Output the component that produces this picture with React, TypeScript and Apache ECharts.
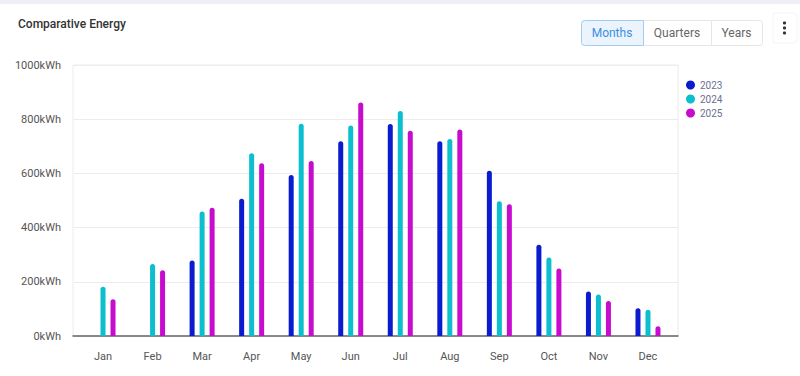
import React, { useEffect, useRef } from "react";
import * as echarts from "echarts";

const months = ["Jan", "Feb", "Mar", "Apr", "May", "Jun", "Jul", "Aug", "Sep", "Oct", "Nov", "Dec"];
const years = ["2023", "2024", "2025"];
const values2023 = [null, null, 279, 506, 594, 719, 782, 719, 610, 337, 164, 102];
const values2024 = [182, 266, 459, 674, 783, 777, 830, 727, 497, 290, 153, 97];
const values2025 = [136, 243, 473, 637, 646, 862, 757, 762, 486, 249, 129, 36];
const yTicks = [0, 200, 400, 600, 800, 1000];
const colors = ["#0b1ccf", "#0bbfcf", "#c70ccf"];
const buttons = ["Months", "Quarters", "Years"];

const FONT = "Roboto, 'Noto Sans', sans-serif";

export default function App() {
  const ref = useRef<HTMLDivElement>(null);
  useEffect(() => {
    if (!ref.current) return;
    const chart = echarts.init(ref.current, null, { renderer: "svg" });
    const seriesData = [values2023, values2024, values2025];
    const btnX = [581, 643, 711];
    const btnW = [62, 68, 51];
    chart.setOption({
      animation: false,
      backgroundColor: "#ffffff",
      textStyle: { fontFamily: FONT },
      grid: [
        { left: 78.25, right: 127.25, top: 65, bottom: 40 },
        { left: 73, right: 122, top: 65, bottom: 40, show: true, borderColor: "#ececec", borderWidth: 1, backgroundColor: "transparent" },
      ],
      legend: {
        data: years,
        orient: "vertical",
        left: 686,
        top: 80,
        padding: 0,
        icon: "circle",
        itemWidth: 9,
        itemHeight: 9,
        itemGap: 4,
        textStyle: { color: "#6b6f90", fontSize: 10, fontFamily: FONT },
      },
      xAxis: [
        {
          type: "category",
          gridIndex: 0,
          data: months,
          axisLine: { show: false },
          axisTick: { show: false },
          axisLabel: { color: "#555", fontSize: 11, margin: 15, fontFamily: FONT },
        },
        {
          type: "value",
          gridIndex: 1,
          min: 0,
          max: 1,
          axisLine: { show: true, onZero: false, lineStyle: { color: "#666", width: 1.5 } },
          axisTick: { show: false },
          axisLabel: { show: false },
          splitLine: { show: false },
        },
      ],
      yAxis: [
        {
          type: "value",
          gridIndex: 0,
          min: 0,
          max: 1000,
          interval: 200,
          axisLabel: { show: false },
          splitLine: { show: false },
          axisLine: { show: false },
          axisTick: { show: false },
        },
        {
          type: "value",
          gridIndex: 1,
          min: yTicks[0],
          max: yTicks[yTicks.length - 1],
          interval: 200,
          axisLine: { show: false },
          axisTick: { show: false },
          axisLabel: {
            formatter: (v: number) => `${v}kWh`,
            color: "#555",
            fontSize: 11,
            margin: 12,
            fontFamily: FONT,
          },
          splitLine: { lineStyle: { color: "#ececec" } },
        },
      ],
      series: years.map((y, i) => ({
        name: y,
        type: "bar",
        xAxisIndex: 0,
        yAxisIndex: 0,
        data: seriesData[i],
        barWidth: 5,
        barGap: "100%",
        itemStyle: { color: colors[i], borderRadius: [3, 3, 0, 0] },
      })),
      color: colors,
      graphic: [
        { type: "rect", shape: { x: 0, y: 0, width: 800, height: 4 }, style: { fill: "#eef0f6" }, silent: true },
        {
          type: "text",
          x: 18,
          y: 18,
          style: { text: "Comparative Energy", fill: "#333", font: `500 12px ${FONT}` },
        },
        ...buttons.map((b, i) => ({
          type: "rect",
          shape: { x: btnX[i] + 0.5, y: 20.5, width: btnW[i], height: 25, r: i === 0 ? [3, 0, 0, 3] : i === 2 ? [0, 3, 3, 0] : 0 },
          style: { fill: i === 0 ? "#ebf4fd" : "#ffffff", stroke: i === 0 ? "#a3ccf2" : "#e6e6e6", lineWidth: 1 },
          z: i === 0 ? 11 : 10,
        })),
        ...buttons.map((b, i) => ({
          type: "text",
          x: btnX[i] + btnW[i] / 2,
          y: 33,
          style: {
            text: b,
            fill: i === 0 ? "#3b8fe3" : "#666",
            font: `12px ${FONT}`,
            align: "center",
            verticalAlign: "middle",
          },
          z: 12,
        })),
        { type: "rect", shape: { x: 773, y: 13, width: 24, height: 30, r: 3 }, style: { fill: "#fff", stroke: "#f4f4f4" } },
        { type: "circle", shape: { cx: 784.5, cy: 23, r: 1.6 }, style: { fill: "#333" } },
        { type: "circle", shape: { cx: 784.5, cy: 28, r: 1.6 }, style: { fill: "#333" } },
        { type: "circle", shape: { cx: 784.5, cy: 33, r: 1.6 }, style: { fill: "#333" } },
      ],
    });
    return () => chart.dispose();
  }, []);
  return <div ref={ref} style={{ position: "absolute", left: 0, top: 0, width: 800, height: 376 }} />;
}
